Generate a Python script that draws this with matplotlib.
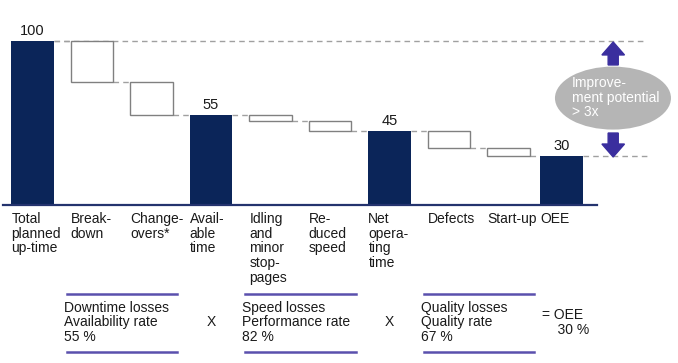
import matplotlib
matplotlib.use("Agg")
import matplotlib.pyplot as plt
import numpy as np
from matplotlib.patches import Ellipse, FancyArrow

plt.rcParams['font.family'] = ['Liberation Sans', 'DejaVu Sans']

# data
categories = ["Total\nplanned\nup-time", "Break-\ndown", "Change-\novers*", "Avail-\nable\ntime",
              "Idling\nand\nminor\nstop-\npages", "Re-\nduced\nspeed", "Net\nopera-\nting\ntime",
              "Defects", "Start-up", "OEE"]
steps = [100, -25, -20, None, -4, -6, None, -10, -5, None]   # None = subtotal
groups = ["Downtime losses\nAvailability rate\n55 %",
          "Speed losses\nPerformance rate\n82 %",
          "Quality losses\nQuality rate\n67 %"]
group_members = [(1, 2), (4, 5), (7, 8)]
operators = ["X", "X"]
result_text = "= OEE\n    30 %"
potential_text = "Improve-\nment potential\n> 3x"

navy = "#0b2559"
grey_edge = "#808080"
purple = "#5a50ad"
arrow_col = "#3a2e9e"

fig = plt.figure(figsize=(6.78, 3.63), dpi=100)
ax = fig.add_axes([0, 0, 1, 1])
ax.set_xlim(-0.546, 10.849)
ax.set_ylim(-96.3, 125.0)
ax.axis("off")

n = len(categories)
x = np.arange(n, dtype=float)
x[-1] -= 0.11
w = 0.71

level = 0
ends = []
for i, s in enumerate(steps):
    if s is None or i == 0:
        top = level if s is None else s
        level = top
        ax.bar(x[i], top, width=w, color=navy, zorder=3)
        ax.annotate(f"{top}", (x[i], top), xytext=(0, 2), textcoords="offset points",
                    ha="center", va="bottom", fontsize=10.5, color="#1a1a1a")
    else:
        new = level + s
        ax.bar(x[i], -s, bottom=new, width=w, facecolor="white",
               edgecolor=grey_edge, linewidth=1, zorder=3)
        level = new
    ends.append(level)

# connectors
for i in range(n - 1):
    ax.plot([x[i] + w / 2, x[i + 1] - w / 2], [ends[i], ends[i]],
            ls=(0, (4, 3)), color="#a0a0a0", lw=1, zorder=2)

# long dashed reference lines
ax.plot([x[0] + w / 2, 10.33], [ends[0], ends[0]], ls=(0, (4, 3)), color="#a0a0a0", lw=1, zorder=2)
ax.plot([x[-1] + w / 2, 10.33], [ends[-1], ends[-1]], ls=(0, (4, 3)), color="#a0a0a0", lw=1, zorder=2)

# baseline
ax.plot([-0.496, 9.49], [0, 0], color="#24336e", lw=1.6, zorder=4)

# category labels
for i, c in enumerate(categories):
    ax.text(x[i] - w / 2, -4.2, c, ha="left", va="top", fontsize=10,
            color="#1a1a1a", linespacing=1.07)

# improvement potential
ax.add_patch(Ellipse((9.756, 65.2), 1.95, 38.4, facecolor="#b5b5b5", edgecolor="none", zorder=3))
ax.text(9.07, 65.5, potential_text, ha="left", va="center", fontsize=10,
        color="white", linespacing=1.05, zorder=4)
ax.add_patch(FancyArrow(9.76, 85.4, 0, 14.0, width=0.17, head_width=0.38, head_length=7.9,
                        length_includes_head=True, color=arrow_col, zorder=4))
ax.add_patch(FancyArrow(9.76, 43.9, 0, -14.6, width=0.17, head_width=0.38, head_length=7.9,
                        length_includes_head=True, color=arrow_col, zorder=4))

# bottom summary
for (a, b), g in zip(group_members, groups):
    x0 = x[a] - w / 2 - 0.07
    x1 = x[b] + w / 2 + 0.08
    for yy in (-54.3, -89.6):
        ax.plot([x0, x1], [yy, yy], color=purple, lw=1.8)
    ax.text(x0 - 0.05, -71.5, g, ha="left", va="center", fontsize=10,
            color="#1a1a1a", linespacing=1.07)
for k, op in enumerate(operators):
    ax.text(x[3 * k + 3], -71.5, op, ha="center", va="center", fontsize=10, color="#1a1a1a")
ax.text(x[-1] - w / 2 + 0.03, -71.5, result_text, ha="left", va="center", fontsize=10,
        color="#1a1a1a", linespacing=1.07)

fig.savefig("out.png", dpi=100)
